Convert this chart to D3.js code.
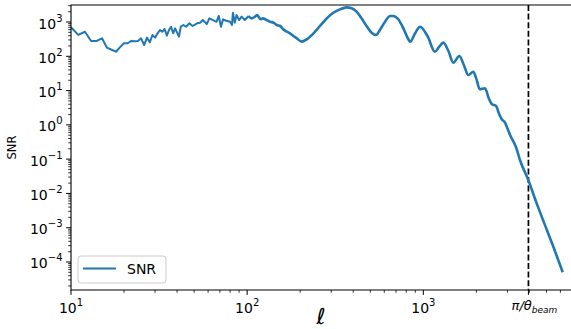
<!DOCTYPE html>
<html>
<head>
<meta charset="utf-8">
<script src="https://cdn.jsdelivr.net/npm/d3@7"></script>
<style>
  html, body { margin: 0; padding: 0; background: #fff; }
  svg text { font-family: "DejaVu Sans", sans-serif; fill: #000; }
</style>
</head>
<body>
<div id="chart"></div>
<script>
// multipole values
const ell = [
  10, 11, 12, 13, 14, 15, 16, 17, 18, 19, 20, 21, 22, 23, 24, 25, 26, 27, 28, 29,
  30, 31, 32, 33, 34, 35, 36, 37, 38, 39, 41, 42, 43.4, 45, 47, 49, 52, 54, 56, 59,
  61, 64, 67, 69, 71, 73, 76, 80, 82, 83, 85, 87, 90, 93, 97, 102, 106, 111, 114, 119,
  123, 129, 135, 141, 147, 154, 160, 168, 175, 183, 191, 204, 218, 238, 259, 283, 308, 336, 367, 392,
  418, 446, 476, 509, 538, 567, 606, 647, 675, 721, 770, 822, 841, 898, 957, 1060, 1163, 1230, 1298, 1390,
  1479, 1600, 1700, 1800, 1922, 2000, 2090, 2240, 2350, 2444, 2587, 2700, 2786, 2910, 3000, 3107, 3360, 3540, 3940, 4395,
  4898, 5465, 6185
];
// signal-to-noise ratio at each multipole
const snr = [
  700, 420, 520, 280, 280, 335, 178, 155, 136, 185, 240, 240, 280, 275, 280, 335, 213, 350, 256, 417,
  350, 468, 585, 520, 625, 400, 585, 730, 468, 655, 373, 730, 818, 730, 915, 765, 915, 955, 1140, 875,
  1280, 1140, 1015, 1500, 730, 1200, 1090, 1015, 818, 1860, 955, 1600, 1140, 1430, 1140, 1500, 1280, 1430, 1600, 1200,
  1280, 1140, 1015, 955, 818, 765, 612, 520, 468, 390, 335, 267, 313, 468, 765, 1280, 1860, 2340, 2680, 2510,
  2000, 1280, 765, 488, 417, 585, 1015, 1500, 1500, 1200, 655, 313, 267, 468, 730, 373, 136, 190, 250, 140,
  65, 102, 55, 28.5, 35.5, 22, 11, 11.7, 6, 4.06, 3.55, 2.0, 1.46, 1.16, 0.8, 0.508, 0.222, 0.093, 0.0248, 0.0052,
  0.00121, 0.000282, 0.00005
];
const xTickExps = [1, 2, 3];
const yTickExps = [-4, -3, -2, -1, 0, 1, 2, 3];
const beamEll = 3950;
const xDomain = [10, 6890];
const yDomain = [Math.pow(10, -4.817), Math.pow(10, 3.496)];

const width = 571, height = 329;
const margin = { left: 71, right: 0, top: 5, bottom: 39 };
const x0 = margin.left, x1 = width - margin.right;
const y0 = margin.top, y1 = height - margin.bottom;

const svg = d3.select("#chart").append("svg")
  .attr("width", width).attr("height", height)
  .attr("viewBox", `0 0 ${width} ${height}`);

const x = d3.scaleLog().domain(xDomain).range([x0, x1]);
const y = d3.scaleLog().domain(yDomain).range([y1, y0]);

svg.append("clipPath").attr("id", "plot-clip")
  .append("rect").attr("x", x0).attr("y", y0).attr("width", x1 - x0).attr("height", y1 - y0);

const supLabel = (sel, exp) => {
  sel.append("tspan").text("10");
  sel.append("tspan").attr("font-size", 10).attr("dy", -7)
    .text(exp < 0 ? "\u2212" + Math.abs(exp) : String(exp));
};

// minor ticks
const minors = (dom) => {
  const out = [];
  for (let e = -6; e <= 4; e++) for (let m = 2; m <= 9; m++) {
    const v = m * Math.pow(10, e);
    if (v >= dom[0] && v <= dom[1]) out.push(v);
  }
  return out;
};

const gx = svg.append("g");
gx.selectAll("line.minor").data(minors(xDomain)).join("line")
  .attr("x1", d => x(d)).attr("x2", d => x(d))
  .attr("y1", y1).attr("y2", y1 + 2.8)
  .attr("stroke", "#000").attr("stroke-width", 0.8);
gx.selectAll("line.major").data(xTickExps.map(e => Math.pow(10, e)).concat([beamEll])).join("line")
  .attr("x1", d => x(d)).attr("x2", d => x(d))
  .attr("y1", y1).attr("y2", y1 + 4.9)
  .attr("stroke", "#000").attr("stroke-width", 1);
gx.selectAll("text.tick").data(xTickExps).join("text")
  .attr("x", e => x(Math.pow(10, e))).attr("y", y1 + 23)
  .attr("text-anchor", "middle").attr("font-size", 14)
  .each(function (e) { supLabel(d3.select(this), e); });

const beamLabel = gx.append("text")
  .attr("x", x(beamEll) + 6).attr("y", y1 + 20)
  .attr("text-anchor", "middle").attr("font-size", 13).attr("font-style", "italic");
beamLabel.append("tspan").text("\u03c0/\u03b8");
beamLabel.append("tspan").attr("font-size", 9).attr("dy", 3).text("beam");

const gy = svg.append("g");
gy.selectAll("line.minor").data(minors(yDomain)).join("line")
  .attr("x1", x0).attr("x2", x0 - 2.8)
  .attr("y1", d => y(d)).attr("y2", d => y(d))
  .attr("stroke", "#000").attr("stroke-width", 0.8);
gy.selectAll("line.major").data(yTickExps).join("line")
  .attr("x1", x0).attr("x2", x0 - 4.9)
  .attr("y1", e => y(Math.pow(10, e))).attr("y2", e => y(Math.pow(10, e)))
  .attr("stroke", "#000").attr("stroke-width", 1);
gy.selectAll("text.tick").data(yTickExps).join("text")
  .attr("x", x0 - 8.5).attr("y", e => y(Math.pow(10, e)) + 6.5)
  .attr("text-anchor", "end").attr("font-size", 14)
  .each(function (e) { supLabel(d3.select(this), e); });

// beam scale marker
svg.append("line")
  .attr("x1", x(beamEll)).attr("x2", x(beamEll))
  .attr("y1", y0).attr("y2", y1)
  .attr("stroke", "#000").attr("stroke-width", 1.7)
  .attr("stroke-dasharray", "6,2.6");

// low-l part is sparse and jagged, high-l part is dense (drawn smoother, thicker)
const pts = ell.map((l, i) => [l, snr[i]]);
const split = ell.indexOf(102);
const lowLine = d3.line().x(d => x(d[0])).y(d => y(d[1]));
const highLine = d3.line().x(d => x(d[0])).y(d => y(d[1])).curve(d3.curveMonotoneX);
const plot = svg.append("g").attr("clip-path", "url(#plot-clip)");
plot.append("path")
  .datum(pts.slice(0, split + 1))
  .attr("fill", "none").attr("stroke", "#1f77b4")
  .attr("stroke-width", 2).attr("stroke-linejoin", "round")
  .attr("d", lowLine);
plot.append("path")
  .datum(pts.slice(split))
  .attr("fill", "none").attr("stroke", "#1f77b4")
  .attr("stroke-width", 2.6).attr("stroke-linejoin", "round")
  .attr("d", highLine);

// spines: left, bottom, top
svg.append("path")
  .attr("d", `M${x1},${y0}H${x0}V${y1}H${x1}`)
  .attr("fill", "none").attr("stroke", "#000").attr("stroke-width", 1.1);

// axis titles
svg.append("text")
  .attr("transform", `translate(16,${(y0 + y1) / 2}) rotate(-90)`)
  .attr("text-anchor", "middle").attr("font-size", 11.5)
  .text("SNR");
svg.append("text")
  .attr("x", (x0 + x1) / 2).attr("y", 324)
  .attr("text-anchor", "middle").attr("font-size", 22).attr("font-style", "italic")
  .text("\u2113");

// legend
const lg = svg.append("g");
lg.append("rect")
  .attr("x", 78).attr("y", 256).attr("width", 88).attr("height", 27).attr("rx", 3)
  .attr("fill", "#fff").attr("fill-opacity", 0.8)
  .attr("stroke", "#cccccc").attr("stroke-width", 1);
lg.append("line")
  .attr("x1", 83).attr("x2", 116).attr("y1", 268.5).attr("y2", 268.5)
  .attr("stroke", "#1f77b4").attr("stroke-width", 2);
lg.append("text")
  .attr("x", 127).attr("y", 274).attr("font-size", 14)
  .text("SNR");
</script>
</body>
</html>
